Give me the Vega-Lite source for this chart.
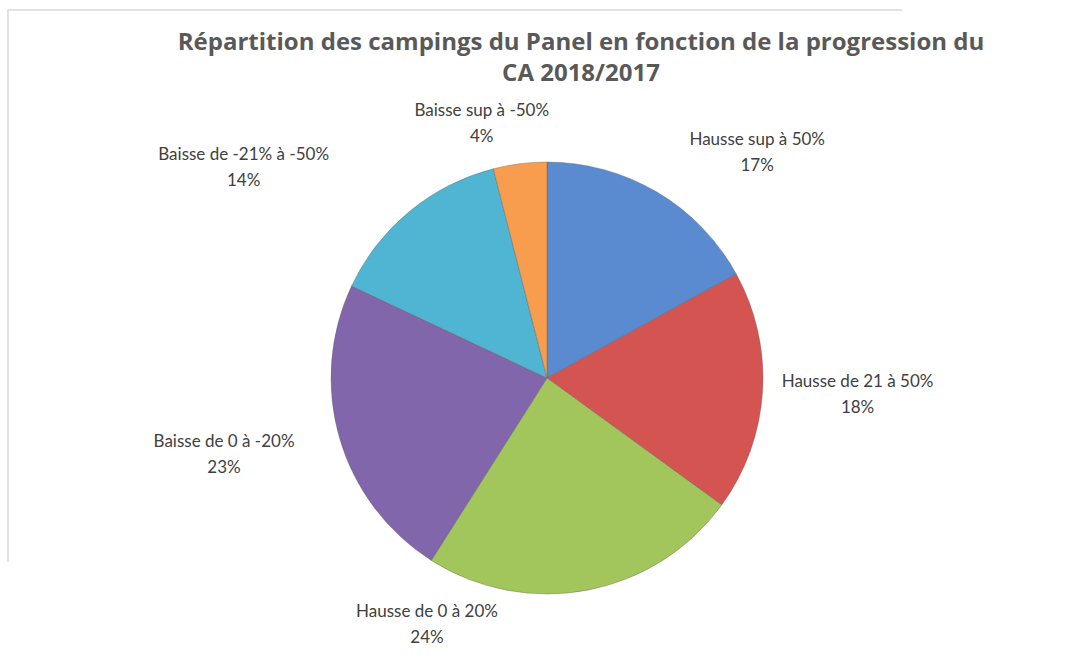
{
  "$schema": "https://vega.github.io/schema/vega-lite/v6.json",
  "width": 894,
  "height": 552,
  "autosize": {"type": "none"},
  "padding": {"left": 100, "top": 102, "right": 78, "bottom": 0},
  "background": "white",
  "view": {"stroke": "#d9d9d9", "strokeWidth": 1.5, "fill": null, "strokeOffset": -92, "strokeDash": [894, 1446, 552]},
  "title": {
    "text": ["Répartition des campings du Panel en fonction de la progression du", "CA 2018/2017"],
    "font": "Open Sans", "fontSize": 24, "fontWeight": "bold", "color": "#595959",
    "anchor": "middle", "dx": 34, "offset": -87, "baseline": "top", "lineHeight": 31
  },
  "data": {"values": [
    {"cat": "Hausse sup à 50%", "v": 0.17, "k": 1},
    {"cat": "Hausse de 21 à 50%", "v": 0.18, "k": 2},
    {"cat": "Hausse de 0 à 20%", "v": 0.24, "k": 3},
    {"cat": "Baisse de 0 à -20%", "v": 0.23, "k": 4},
    {"cat": "Baisse de -21% à -50%", "v": 0.14, "k": 5},
    {"cat": "Baisse sup à -50%", "v": 0.04, "k": 6}
  ]},
  "encoding": {
    "theta": {"field": "v", "type": "quantitative", "stack": true},
    "order": {"field": "k", "type": "quantitative"}
  },
  "layer": [
    {"mark": {"type": "arc", "outerRadius": 216, "stroke": "#5a5a5a", "strokeOpacity": 0.35, "strokeWidth": 1},
     "encoding": {"color": {"field": "cat", "type": "nominal", "legend": null,
       "scale": {"domain": ["Hausse sup à 50%", "Hausse de 21 à 50%", "Hausse de 0 à 20%", "Baisse de 0 à -20%", "Baisse de -21% à -50%", "Baisse sup à -50%"],
                 "range": ["#5a8ad0", "#d35450", "#a2c55c", "#8266ab", "#4fb5d2", "#f89c4d"]}}}},
    {"mark": {"type": "text", "radius": 308, "thetaOffset": 0.217, "dy": -13, "font": "Lato", "fontSize": 17, "fill": "#404040"},
     "encoding": {"detail": {"field": "cat"}, "text": {"condition": {"test": "datum.k === 1", "field": "cat"}, "value": ""}}},
    {"mark": {"type": "text", "radius": 308, "thetaOffset": 0.217, "dy": 13, "font": "Lato", "fontSize": 17, "fill": "#404040"},
     "encoding": {"detail": {"field": "cat"}, "text": {"condition": {"test": "datum.k === 1", "field": "v", "format": ".0%"}, "value": ""}}},
    {"mark": {"type": "text", "radius": 311, "thetaOffset": -0.009, "dy": -13, "font": "Lato", "fontSize": 17, "fill": "#404040"},
     "encoding": {"detail": {"field": "cat"}, "text": {"condition": {"test": "datum.k === 2", "field": "cat"}, "value": ""}}},
    {"mark": {"type": "text", "radius": 311, "thetaOffset": -0.009, "dy": 13, "font": "Lato", "fontSize": 17, "fill": "#404040"},
     "encoding": {"detail": {"field": "cat"}, "text": {"condition": {"test": "datum.k === 2", "field": "v", "format": ".0%"}, "value": ""}}},
    {"mark": {"type": "text", "radius": 275, "thetaOffset": 0.64, "dy": -13, "font": "Lato", "fontSize": 17, "fill": "#404040"},
     "encoding": {"detail": {"field": "cat"}, "text": {"condition": {"test": "datum.k === 3", "field": "cat"}, "value": ""}}},
    {"mark": {"type": "text", "radius": 275, "thetaOffset": 0.64, "dy": 13, "font": "Lato", "fontSize": 17, "fill": "#404040"},
     "encoding": {"detail": {"field": "cat"}, "text": {"condition": {"test": "datum.k === 3", "field": "v", "format": ".0%"}, "value": ""}}},
    {"mark": {"type": "text", "radius": 332, "thetaOffset": 0.049, "dy": -13, "font": "Lato", "fontSize": 17, "fill": "#404040"},
     "encoding": {"detail": {"field": "cat"}, "text": {"condition": {"test": "datum.k === 4", "field": "cat"}, "value": ""}}},
    {"mark": {"type": "text", "radius": 332, "thetaOffset": 0.049, "dy": 13, "font": "Lato", "fontSize": 17, "fill": "#404040"},
     "encoding": {"detail": {"field": "cat"}, "text": {"condition": {"test": "datum.k === 4", "field": "v", "format": ".0%"}, "value": ""}}},
    {"mark": {"type": "text", "radius": 369, "thetaOffset": -0.274, "dy": -13, "font": "Lato", "fontSize": 17, "fill": "#404040"},
     "encoding": {"detail": {"field": "cat"}, "text": {"condition": {"test": "datum.k === 5", "field": "cat"}, "value": ""}}},
    {"mark": {"type": "text", "radius": 369, "thetaOffset": -0.274, "dy": 13, "font": "Lato", "fontSize": 17, "fill": "#404040"},
     "encoding": {"detail": {"field": "cat"}, "text": {"condition": {"test": "datum.k === 5", "field": "v", "format": ".0%"}, "value": ""}}},
    {"mark": {"type": "text", "radius": 262, "thetaOffset": -0.126, "dy": -13, "font": "Lato", "fontSize": 17, "fill": "#404040"},
     "encoding": {"detail": {"field": "cat"}, "text": {"condition": {"test": "datum.k === 6", "field": "cat"}, "value": ""}}},
    {"mark": {"type": "text", "radius": 262, "thetaOffset": -0.126, "dy": 13, "font": "Lato", "fontSize": 17, "fill": "#404040"},
     "encoding": {"detail": {"field": "cat"}, "text": {"condition": {"test": "datum.k === 6", "field": "v", "format": ".0%"}, "value": ""}}}
  ]
}
